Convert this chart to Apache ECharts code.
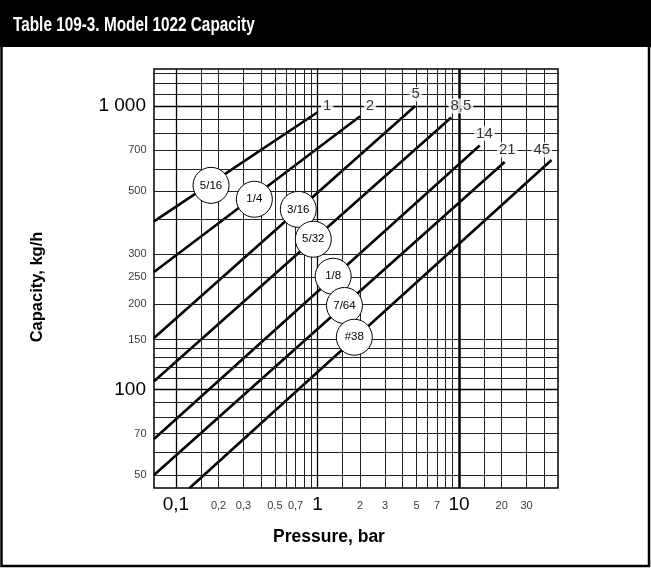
<!DOCTYPE html>
<html>
<head>
<meta charset="utf-8">
<title>Model 1022 Capacity</title>
<script src="https://cdn.jsdelivr.net/npm/echarts@6/dist/echarts.min.js"></script>
<style>
  html, body { margin: 0; padding: 0; background: #fff; }
  #chart { width: 651px; height: 569px; }
</style>
</head>
<body>
<div id="chart"></div>
<script>
  // axis ranges, pressure in bar, capacity in kg/h
  var xMin = 0.07, xMax = 50;
  var yMin = 45, yMax = 1350;

  // tick labels
  var xMajorTicks = [0.1, 1, 10];
  var xMajorLabels = ['0,1', '1', '10'];
  var xMinorTicks = [0.2, 0.3, 0.5, 0.7, 2, 3, 5, 7, 20, 30];
  var xMinorLabels = ['0,2', '0,3', '0,5', '0,7', '2', '3', '5', '7', '20', '30'];
  var yMajorTicks = [100, 1000];
  var yMajorLabels = ['100', '1 000'];
  var yMinorTicks = [50, 70, 150, 200, 250, 300, 500, 700];
  var yMinorLabels = ['50', '70', '150', '200', '250', '300', '500', '700'];

  // grid lines of the log paper
  var xGrid = [0.1, 0.15, 0.2, 0.3, 0.4, 0.5, 0.6, 0.7, 0.8, 0.9, 1, 1.5, 2, 3, 4, 5, 6, 7, 8, 9, 10, 15, 20, 30, 40];
  var yGrid = [50, 60, 70, 80, 90, 100, 110, 120, 130, 140, 150, 200, 250, 300, 400, 500, 600, 700, 800, 900, 1000, 1100, 1200, 1300];

  // one line per orifice: [pressure, capacity] at start and end
  var orifice5_16 = [[0.07, 392], [1, 950]];
  var orifice1_4 = [[0.07, 260], [2, 920]];
  var orifice3_16 = [[0.07, 152], [4.9, 1000]];
  var orifice5_32 = [[0.07, 107], [8.8, 910]];
  var orifice1_8 = [[0.07, 67], [14, 725]];
  var orifice7_64 = [[0.07, 50], [21, 635]];
  var orifice38 = [[0.125, 45], [45, 645]];

  // orifice size circles placed on the lines
  var orificeNames = ['5/16', '1/4', '3/16', '5/32', '1/8', '7/64', '#38'];
  var orificeMarks = [[0.177, 525], [0.358, 469], [0.732, 432], [0.934, 339], [1.29, 251], [1.55, 198], [1.82, 153]];

  // max pressure labels at line ends
  var maxPressNames = ['1', '2', '5', '8,5', '14', '21', '45'];
  var maxPressPos = [[1.17, 1000], [2.35, 1000], [4.93, 1100], [10.3, 1000], [15.1, 800], [21.9, 700], [38.4, 700]];

  var SANS = "'Liberation Sans', Arial, sans-serif";

  function near(v, t) {
    return Math.abs(Math.log(v / t)) < 0.01;
  }

  var gridLines = [];
  xGrid.forEach(function (v) {
    var w = 1, c = '#222';
    if (v === 0.1 || v === 1) { w = 1.3; c = '#000'; }
    if (v === 10) { w = 2.5; c = '#000'; }
    gridLines.push({ xAxis: v, lineStyle: { color: c, width: w, type: 'solid' } });
  });
  yGrid.forEach(function (v) {
    var w = 1, c = '#222';
    if (v === 100 || v === 1000) { w = 1.3; c = '#000'; }
    gridLines.push({ yAxis: v, lineStyle: { color: c, width: w, type: 'solid' } });
  });

  var lines = [orifice5_16, orifice1_4, orifice3_16, orifice5_32, orifice1_8, orifice7_64, orifice38];

  var series = [{
    type: 'line',
    data: [],
    z: 1,
    silent: true,
    markLine: {
      silent: true,
      symbol: ['none', 'none'],
      label: { show: false },
      animation: false,
      data: gridLines
    }
  }];

  lines.forEach(function (d, i) {
    series.push({
      name: orificeNames[i],
      type: 'line',
      data: d,
      symbol: 'none',
      z: 3,
      lineStyle: { color: '#000', width: 2.6 }
    });
  });

  series.push({
    type: 'scatter',
    data: orificeMarks,
    symbolSize: 36,
    z: 5,
    itemStyle: { color: '#fff', borderColor: '#000', borderWidth: 1, opacity: 1 },
    label: {
      show: true,
      position: 'inside',
      color: '#000',
      fontFamily: SANS,
      fontSize: 11.5,
      formatter: function (p) { return orificeNames[p.dataIndex]; }
    }
  });

  series.push({
    type: 'scatter',
    data: maxPressPos,
    symbolSize: 1,
    z: 6,
    itemStyle: { color: 'rgba(0,0,0,0)' },
    label: {
      show: true,
      position: 'inside',
      color: '#000',
      fontFamily: SANS,
      fontSize: 15,
      backgroundColor: '#fff',
      padding: [0, 2],
      formatter: function (p) { return maxPressNames[p.dataIndex]; }
    }
  });

  series.push({
    type: 'scatter',
    data: xMinorTicks.map(function (v) { return [v, yMin]; }),
    symbolSize: 1,
    clip: false,
    itemStyle: { color: 'rgba(0,0,0,0)' },
    label: {
      show: true,
      position: 'bottom',
      distance: 12,
      color: '#000',
      fontFamily: SANS,
      fontSize: 11,
      formatter: function (p) { return xMinorLabels[p.dataIndex]; }
    }
  });

  series.push({
    type: 'scatter',
    data: yMinorTicks.map(function (v) { return [xMin, v]; }),
    symbolSize: 1,
    clip: false,
    itemStyle: { color: 'rgba(0,0,0,0)' },
    label: {
      show: true,
      position: 'left',
      distance: 7,
      color: '#000',
      fontFamily: SANS,
      fontSize: 11,
      formatter: function (p) { return yMinorLabels[p.dataIndex]; }
    }
  });

  var option = {
    animation: false,
    backgroundColor: '#fff',
    grid: {
      left: 154, right: 93, top: 69, bottom: 81,
      show: true, borderColor: '#000', borderWidth: 1.5,
      backgroundColor: 'rgba(0,0,0,0)'
    },
    xAxis: {
      type: 'log', logBase: 10, min: xMin, max: xMax,
      axisLine: { show: false }, axisTick: { show: false }, splitLine: { show: false },
      axisLabel: {
        margin: 7, color: '#000', fontFamily: SANS, fontSize: 19,
        showMinLabel: false, showMaxLabel: false,
        formatter: function (v) {
          for (var i = 0; i < xMajorTicks.length; i++) {
            if (near(v, xMajorTicks[i])) return xMajorLabels[i];
          }
          return '';
        }
      }
    },
    yAxis: {
      type: 'log', logBase: 10, min: yMin, max: yMax,
      axisLine: { show: false }, axisTick: { show: false }, splitLine: { show: false },
      axisLabel: {
        margin: 8, color: '#000', fontFamily: SANS, fontSize: 19,
        showMinLabel: false, showMaxLabel: false,
        formatter: function (v) {
          for (var i = 0; i < yMajorTicks.length; i++) {
            if (near(v, yMajorTicks[i])) return yMajorLabels[i];
          }
          return '';
        }
      }
    },
    graphic: [
      { type: 'rect', shape: { x: 0, y: 0, width: 651, height: 47 }, style: { fill: '#000' }, z: 0 },
      { type: 'rect', shape: { x: 1.5, y: 1, width: 647.5, height: 565 }, style: { fill: null, stroke: '#000', lineWidth: 2.5 }, z: 0 },
      {
        type: 'text', x: 13, y: 25, scaleX: 0.73, z: 10,
        style: { text: 'Table 109-3. Model 1022 Capacity', fill: '#fff', font: 'bold 21px ' + SANS, verticalAlign: 'middle' }
      },
      {
        type: 'text', x: 329, y: 537, z: 10,
        style: { text: 'Pressure, bar', fill: '#000', font: 'bold 17.5px ' + SANS, align: 'center', verticalAlign: 'middle' }
      },
      {
        type: 'text', x: 37, y: 287, rotation: Math.PI / 2, z: 10,
        style: { text: 'Capacity, kg/h', fill: '#000', font: 'bold 16.5px ' + SANS, align: 'center', verticalAlign: 'middle' }
      }
    ],
    series: series
  };

  var myChart = echarts.init(document.getElementById('chart'));
  myChart.setOption(option);
</script>
</body>
</html>
